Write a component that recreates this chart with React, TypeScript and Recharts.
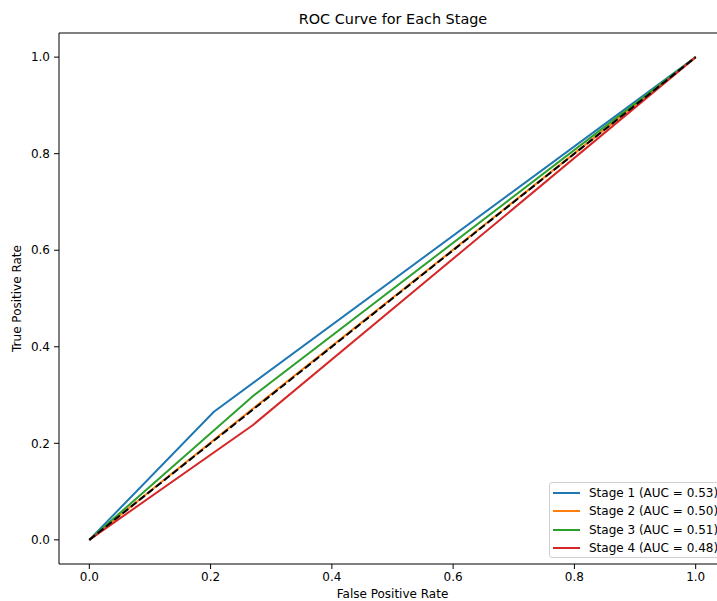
import React from 'react'
import {
  LineChart,
  Line,
  XAxis,
  YAxis,
  ReferenceLine
} from 'recharts'

// knee points of each stage's ROC curve
const stageNames = ['Stage 1 (AUC = 0.53)', 'Stage 2 (AUC = 0.50)', 'Stage 3 (AUC = 0.51)', 'Stage 4 (AUC = 0.48)']
const stageColors = ['#1f77b4', '#ff7f0e', '#2ca02c', '#d62728']
const fprValues = [
  [0, 0.205, 1],
  [0, 0.27, 1],
  [0, 0.27, 1],
  [0, 0.27, 1]
]
const tprValues = [
  [0, 0.265, 1],
  [0, 0.272, 1],
  [0, 0.298, 1],
  [0, 0.238, 1]
]
const chanceLine = [0, 1]
const axisTicks = [0, 0.2, 0.4, 0.6, 0.8, 1.0]

const font = '"DejaVu Sans", sans-serif'
const textSize = 12

const series = stageNames.map((name, i) => ({
  name,
  color: stageColors[i],
  data: fprValues[i].map((fpr, j) => ({ fpr, tpr: tprValues[i][j] }))
}))
const diagonal = chanceLine.map((v) => ({ fpr: v, tpr: v }))

const LegendBox = () => (
  <div
    style={{
      position: 'absolute',
      left: 549,
      top: 482,
      width: 172,
      height: 76,
      boxSizing: 'border-box',
      border: '1px solid #d0d0d0',
      borderRadius: 3,
      background: 'rgba(255,255,255,0.8)',
      padding: '1px 0 0 3px',
      fontFamily: font,
      fontSize: textSize,
      color: '#000'
    }}
  >
    {series.map((s) => (
      <div key={s.name} style={{ display: 'flex', alignItems: 'center', height: 18.3 }}>
        <span style={{ display: 'inline-block', flexShrink: 0, width: 27, height: 2, background: s.color, marginRight: 9 }} />
        <span style={{ whiteSpace: 'nowrap' }}>{s.name}</span>
      </div>
    ))}
  </div>
)

const App: React.FC = () => {
  return (
    <div
      style={{
        position: 'absolute',
        left: 0,
        top: 0,
        width: 717,
        height: 601,
        overflow: 'hidden',
        background: '#fff',
        fontFamily: font
      }}
    >
      <div
        style={{
          position: 'absolute',
          left: 0,
          width: 786,
          top: 11,
          textAlign: 'center',
          fontSize: 14.4,
          color: '#000'
        }}
      >
        ROC Curve for Each Stage
      </div>
      <div style={{ position: 'absolute', left: 0, top: 0 }}>
        <LineChart
          width={730}
          height={601}
          margin={{ top: 33, right: 4, bottom: 0, left: 0 }}
        >
          <XAxis
            type="number"
            dataKey="fpr"
            domain={[-0.05, 1.05]}
            ticks={axisTicks}
            tickFormatter={(v: number) => v.toFixed(1)}
            allowDuplicatedCategory={false}
            height={37}
            stroke="#000"
            tickSize={5}
            tickMargin={3}
            tick={{ fill: '#000', fontSize: textSize, fontFamily: font }}
            label={{ value: 'False Positive Rate', position: 'insideBottom', offset: 3, fill: '#000', fontSize: textSize, fontFamily: font }}
          />
          <YAxis
            type="number"
            dataKey="tpr"
            domain={[-0.05, 1.05]}
            ticks={axisTicks}
            tickFormatter={(v: number) => v.toFixed(1)}
            width={59}
            stroke="#000"
            tickSize={5}
            tickMargin={4}
            tick={{ fill: '#000', fontSize: textSize, fontFamily: font }}
            label={{
              value: 'True Positive Rate',
              angle: -90,
              position: 'insideLeft',
              offset: 17,
              style: { textAnchor: 'middle' },
              fill: '#000',
              fontSize: textSize,
              fontFamily: font
            }}
          />
          <ReferenceLine y={1.05} stroke="#000" strokeWidth={1} />
          <ReferenceLine x={1.05} stroke="#000" strokeWidth={1} />
          {series.map((s) => (
            <Line
              key={s.name}
              data={s.data}
              dataKey="tpr"
              name={s.name}
              type="linear"
              stroke={s.color}
              strokeWidth={2}
              dot={false}
              activeDot={false}
              isAnimationActive={false}
            />
          ))}
          <Line
            data={diagonal}
            dataKey="tpr"
            name="chance"
            legendType="none"
            type="linear"
            stroke="#000"
            strokeWidth={2}
            strokeDasharray="7.4 3.2"
            dot={false}
            activeDot={false}
            isAnimationActive={false}
          />
        </LineChart>
      </div>
      <LegendBox />
    </div>
  )
}

export default App
